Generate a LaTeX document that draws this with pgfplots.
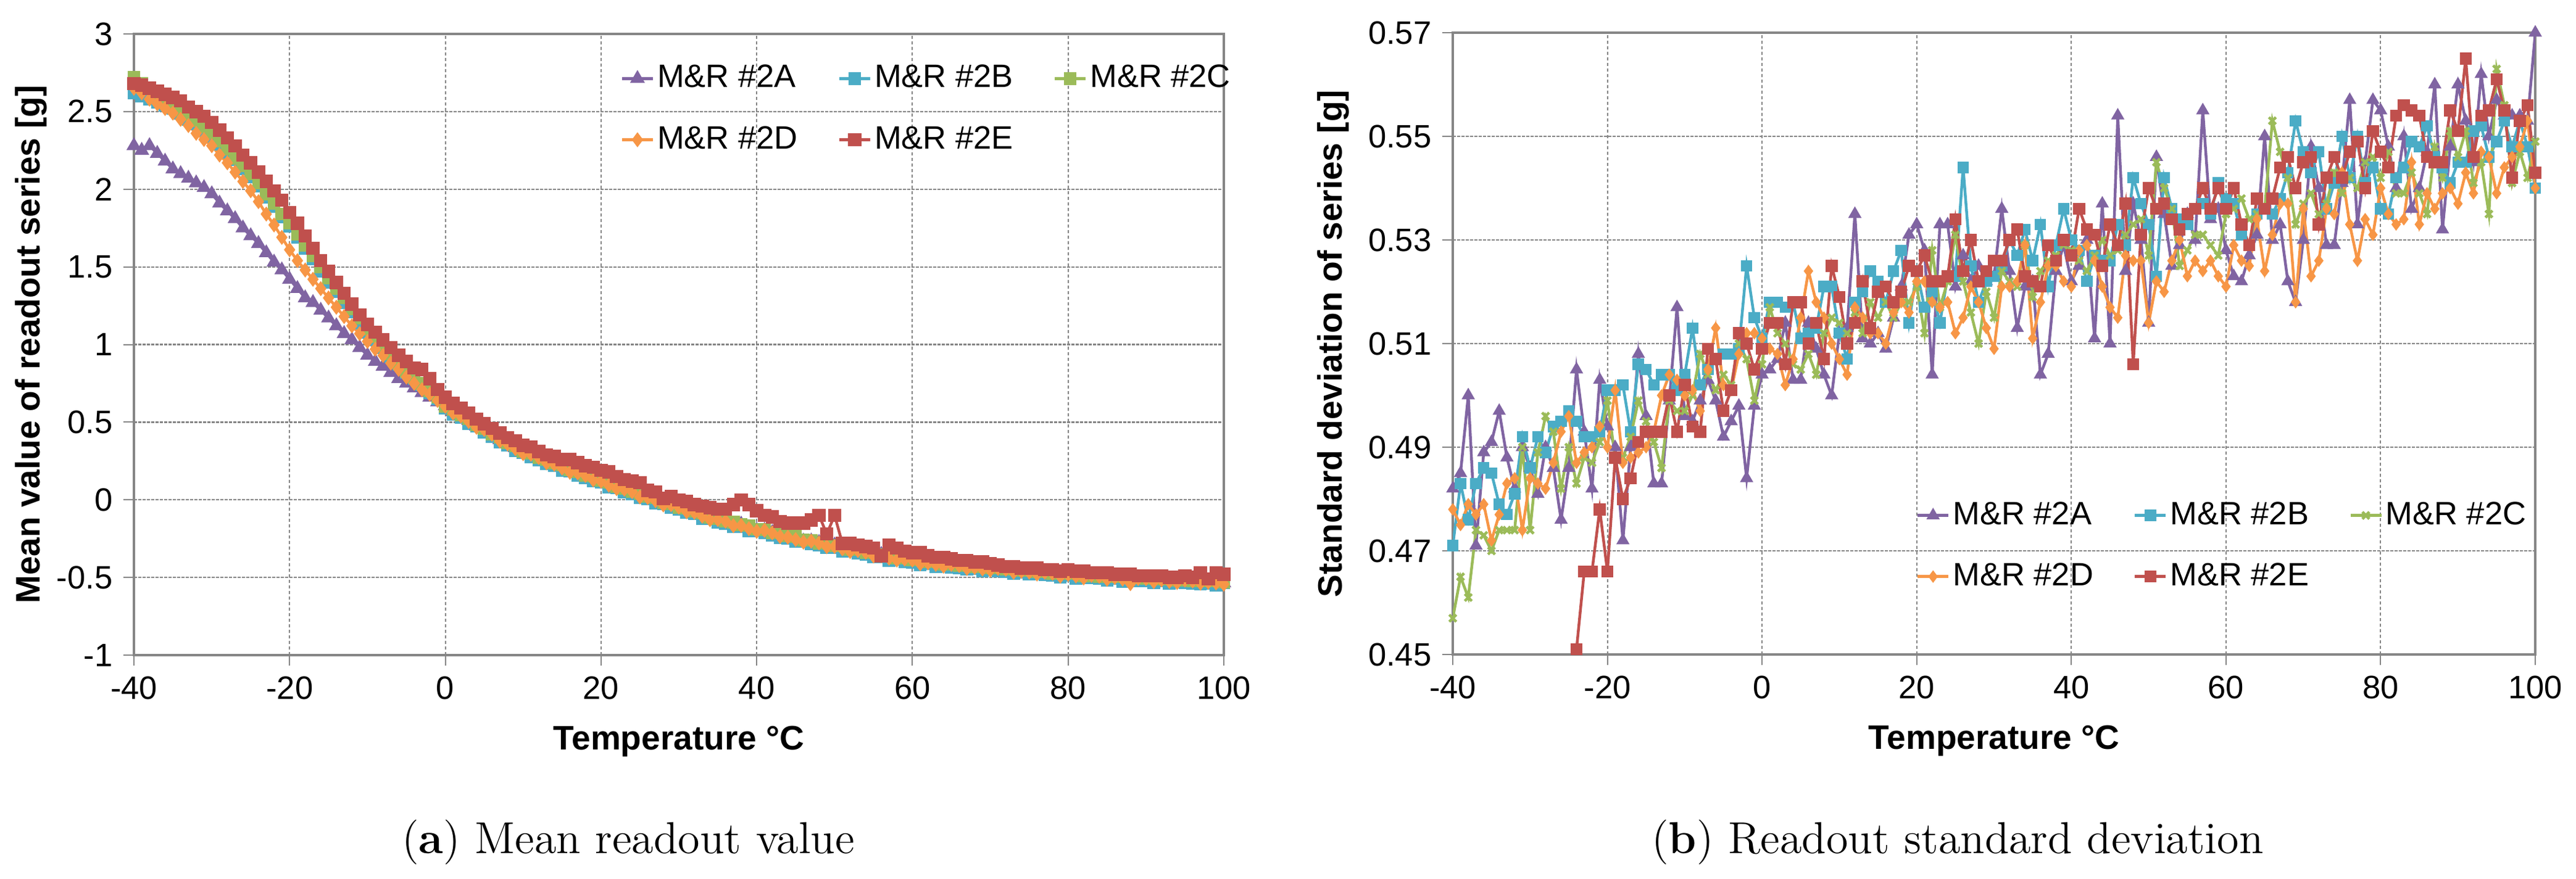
\documentclass[border=0pt]{standalone}
\usepackage{fontspec}
\usepackage{pgfplots}
\usepackage{pgfplotstable}
\pgfplotsset{compat=1.18}
\newfontfamily\arial{Liberation Sans}
\newcommand\tickfont{\arial\fontsize{10.5}{12}\selectfont}
\newcommand\labfont{\arial\bfseries\fontsize{11}{13}\selectfont}
\definecolor{cA}{HTML}{8064A2}
\definecolor{cB}{HTML}{4BACC6}
\definecolor{cC}{HTML}{9BBB59}
\definecolor{cD}{HTML}{F79646}
\definecolor{cE}{HTML}{C0504D}
\definecolor{gridgray}{HTML}{868686}

\pgfplotstableread{
T A B C D E
-40 2.28 2.62 2.72 2.65 2.68
-39 2.25 2.60 2.68 2.62 2.67
-38 2.28 2.58 2.65 2.58 2.65
-37 2.23 2.56 2.62 2.55 2.63
-36 2.18 2.54 2.58 2.52 2.61
-35 2.13 2.52 2.55 2.49 2.59
-34 2.10 2.49 2.51 2.45 2.57
-33 2.07 2.45 2.48 2.41 2.53
-32 2.04 2.42 2.44 2.36 2.50
-31 2.01 2.38 2.40 2.32 2.47
-30 1.97 2.34 2.36 2.28 2.43
-29 1.91 2.29 2.31 2.22 2.38
-28 1.86 2.24 2.26 2.17 2.33
-27 1.81 2.19 2.20 2.11 2.28
-26 1.75 2.13 2.15 2.05 2.22
-25 1.70 2.08 2.10 1.99 2.17
-24 1.65 2.02 2.04 1.92 2.11
-23 1.59 1.95 1.97 1.84 2.05
-22 1.53 1.89 1.91 1.77 1.99
-21 1.48 1.82 1.84 1.69 1.93
-20 1.42 1.76 1.78 1.61 1.85
-19 1.36 1.69 1.71 1.54 1.78
-18 1.30 1.62 1.64 1.48 1.70
-17 1.27 1.55 1.57 1.42 1.62
-16 1.22 1.47 1.50 1.36 1.54
-15 1.17 1.40 1.43 1.30 1.47
-14 1.12 1.34 1.36 1.24 1.40
-13 1.07 1.27 1.30 1.18 1.33
-12 1.03 1.21 1.23 1.12 1.26
-11 0.98 1.14 1.17 1.07 1.19
-10 0.93 1.08 1.10 1.02 1.13
-9 0.89 1.03 1.05 0.97 1.08
-8 0.86 0.98 0.99 0.93 1.03
-7 0.82 0.92 0.94 0.88 0.98
-6 0.78 0.87 0.88 0.84 0.93
-5 0.75 0.82 0.83 0.79 0.89
-4 0.72 0.78 0.79 0.75 0.85
-3 0.69 0.74 0.75 0.71 0.84
-2 0.66 0.69 0.70 0.68 0.78
-1 0.63 0.65 0.66 0.64 0.71
0 0.605 0.588 0.602 0.602 0.66
1 0.567 0.552 0.582 0.558 0.62
2 0.548 0.532 0.546 0.539 0.59
3 0.510 0.490 0.524 0.504 0.56
4 0.474 0.474 0.481 0.467 0.52
5 0.454 0.436 0.459 0.453 0.49
6 0.425 0.408 0.422 0.422 0.46
7 0.387 0.372 0.402 0.378 0.43
8 0.368 0.352 0.366 0.359 0.40
9 0.335 0.315 0.349 0.329 0.38
10 0.304 0.304 0.311 0.297 0.35
11 0.294 0.276 0.299 0.293 0.34
12 0.275 0.258 0.272 0.272 0.31
13 0.247 0.232 0.262 0.238 0.29
14 0.238 0.222 0.236 0.229 0.28
15 0.210 0.190 0.224 0.204 0.26
16 0.184 0.184 0.191 0.177 0.26
17 0.174 0.156 0.179 0.173 0.24
18 0.160 0.143 0.157 0.157 0.22
19 0.137 0.122 0.152 0.128 0.21
20 0.128 0.112 0.126 0.119 0.19
21 0.100 0.080 0.114 0.094 0.18
22 0.079 0.079 0.086 0.072 0.15
23 0.069 0.051 0.074 0.068 0.13
24 0.055 0.038 0.052 0.052 0.12
25 0.027 0.012 0.042 0.018 0.11
26 0.023 0.007 0.021 0.014 0.06
27 0.000 -0.020 0.014 -0.006 0.05
28 -0.026 -0.026 -0.019 -0.033 0.01
29 -0.031 -0.049 -0.026 -0.032 0.02
30 -0.045 -0.062 -0.048 -0.048 0.00
31 -0.068 -0.083 -0.053 -0.077 -0.01
32 -0.072 -0.088 -0.074 -0.081 -0.03
33 -0.100 -0.120 -0.086 -0.106 -0.04
34 -0.121 -0.121 -0.114 -0.128 -0.05
35 -0.126 -0.144 -0.121 -0.127 -0.06
36 -0.135 -0.152 -0.138 -0.138 -0.06
37 -0.158 -0.173 -0.143 -0.167 -0.03
38 -0.157 -0.173 -0.159 -0.166 0.00
39 -0.180 -0.200 -0.166 -0.186 -0.03
40 -0.196 -0.196 -0.189 -0.203 -0.07
41 -0.196 -0.214 -0.191 -0.197 -0.10
42 -0.210 -0.227 -0.213 -0.213 -0.11
43 -0.228 -0.243 -0.213 -0.237 -0.14
44 -0.232 -0.248 -0.234 -0.241 -0.15
45 -0.250 -0.270 -0.236 -0.256 -0.15
46 -0.266 -0.266 -0.259 -0.273 -0.15
47 -0.266 -0.284 -0.261 -0.267 -0.13
48 -0.275 -0.292 -0.278 -0.278 -0.10
49 -0.293 -0.308 -0.278 -0.302 -0.22
50 -0.292 -0.308 -0.294 -0.301 -0.10
51 -0.310 -0.330 -0.296 -0.316 -0.28
52 -0.326 -0.326 -0.319 -0.333 -0.28
53 -0.326 -0.344 -0.321 -0.327 -0.29
54 -0.335 -0.352 -0.338 -0.338 -0.30
55 -0.353 -0.368 -0.338 -0.362 -0.31
56 -0.352 -0.368 -0.354 -0.361 -0.36
57 -0.370 -0.390 -0.356 -0.376 -0.29
58 -0.381 -0.381 -0.374 -0.388 -0.31
59 -0.381 -0.399 -0.376 -0.382 -0.33
60 -0.385 -0.402 -0.388 -0.388 -0.34
61 -0.403 -0.418 -0.388 -0.412 -0.34
62 -0.397 -0.413 -0.399 -0.406 -0.36
63 -0.410 -0.430 -0.396 -0.416 -0.37
64 -0.421 -0.421 -0.414 -0.428 -0.37
65 -0.416 -0.434 -0.411 -0.417 -0.38
66 -0.420 -0.437 -0.423 -0.423 -0.39
67 -0.433 -0.448 -0.418 -0.442 -0.39
68 -0.427 -0.443 -0.429 -0.436 -0.40
69 -0.440 -0.460 -0.426 -0.446 -0.40
70 -0.446 -0.446 -0.439 -0.453 -0.41
71 -0.441 -0.459 -0.436 -0.442 -0.42
72 -0.445 -0.462 -0.448 -0.448 -0.43
73 -0.458 -0.473 -0.443 -0.467 -0.43
74 -0.452 -0.468 -0.454 -0.461 -0.44
75 -0.460 -0.480 -0.446 -0.466 -0.44
76 -0.471 -0.471 -0.464 -0.478 -0.44
77 -0.466 -0.484 -0.461 -0.467 -0.45
78 -0.470 -0.487 -0.473 -0.473 -0.45
79 -0.483 -0.498 -0.468 -0.492 -0.46
80 -0.472 -0.488 -0.474 -0.481 -0.45
81 -0.485 -0.505 -0.471 -0.491 -0.46
82 -0.496 -0.496 -0.489 -0.503 -0.46
83 -0.486 -0.504 -0.481 -0.487 -0.47
84 -0.490 -0.507 -0.493 -0.493 -0.47
85 -0.503 -0.518 -0.488 -0.512 -0.47
86 -0.492 -0.508 -0.494 -0.501 -0.48
87 -0.505 -0.525 -0.491 -0.511 -0.48
88 -0.511 -0.511 -0.504 -0.540 -0.48
89 -0.506 -0.524 -0.501 -0.507 -0.49
90 -0.505 -0.522 -0.508 -0.508 -0.49
91 -0.518 -0.533 -0.503 -0.527 -0.49
92 -0.507 -0.523 -0.509 -0.516 -0.49
93 -0.520 -0.540 -0.506 -0.526 -0.50
94 -0.526 -0.526 -0.519 -0.533 -0.50
95 -0.516 -0.534 -0.511 -0.517 -0.49
96 -0.520 -0.537 -0.523 -0.523 -0.50
97 -0.528 -0.543 -0.513 -0.537 -0.47
98 -0.522 -0.538 -0.524 -0.531 -0.51
99 -0.530 -0.550 -0.516 -0.536 -0.47
100 -0.536 -0.536 -0.529 -0.543 -0.48
}\meantab

\pgfplotstableread{
T A B C D E
-40 0.482 0.471 0.457 0.478 nan
-39 0.485 0.483 0.465 0.475 nan
-38 0.500 0.476 0.461 0.479 nan
-37 0.471 0.483 0.474 0.477 nan
-36 0.489 0.486 0.473 0.479 nan
-35 0.491 0.485 0.470 0.472 nan
-34 0.497 0.479 0.474 0.477 nan
-33 0.488 0.477 0.474 0.483 nan
-32 0.482 0.481 0.474 0.484 nan
-31 0.490 0.492 0.490 0.474 nan
-30 0.486 0.486 0.474 0.484 nan
-29 0.481 0.492 0.489 0.483 nan
-28 0.490 0.489 0.496 0.482 nan
-27 0.486 0.494 0.493 0.487 nan
-26 0.476 0.495 0.482 0.493 nan
-25 0.486 0.497 0.490 0.496 nan
-24 0.505 0.495 0.483 0.487 0.451
-23 0.493 0.492 0.488 0.489 0.466
-22 0.482 0.492 0.487 0.490 0.466
-21 0.503 0.493 0.491 0.494 0.478
-20 0.494 0.501 0.499 0.490 0.466
-19 0.490 0.501 0.488 0.501 0.488
-18 0.472 0.502 0.488 0.487 0.480
-17 0.490 0.493 0.492 0.488 0.484
-16 0.508 0.506 0.499 0.489 0.491
-15 0.496 0.505 0.495 0.490 0.493
-14 0.483 0.502 0.491 0.493 0.493
-13 0.483 0.504 0.486 0.500 0.493
-12 0.499 0.504 0.499 0.504 0.500
-11 0.517 0.501 0.497 0.503 0.493
-10 0.496 0.504 0.497 0.500 0.502
-9 0.495 0.513 0.500 0.501 0.494
-8 0.499 0.502 0.508 0.497 0.493
-7 0.503 0.505 0.504 0.505 0.509
-6 0.499 0.507 0.501 0.513 0.507
-5 0.492 0.508 0.504 0.502 0.497
-4 0.495 0.508 0.502 0.501 0.501
-3 0.498 0.509 0.510 0.508 0.512
-2 0.484 0.525 0.507 0.512 0.510
-1 0.498 0.515 0.499 0.512 0.505
0 0.504 0.511 0.506 0.511 0.509
1 0.505 0.518 0.517 0.509 0.514
2 0.507 0.518 0.512 0.508 0.514
3 0.514 0.517 0.510 0.502 0.506
4 0.503 0.518 0.506 0.507 0.518
5 0.503 0.511 0.505 0.515 0.518
6 0.514 0.512 0.508 0.524 0.510
7 0.509 0.513 0.504 0.518 0.514
8 0.504 0.521 0.512 0.515 0.507
9 0.500 0.521 0.515 0.510 0.525
10 0.512 0.512 0.514 0.507 0.519
11 0.513 0.507 0.512 0.504 0.510
12 0.535 0.518 0.516 0.517 0.514
13 0.511 0.520 0.512 0.515 0.522
14 0.510 0.524 0.518 0.512 0.513
15 0.512 0.522 0.515 0.512 0.520
16 0.509 0.518 0.518 0.510 0.521
17 0.515 0.524 0.515 0.516 0.518
18 0.521 0.528 0.518 0.518 0.520
19 0.531 0.514 0.518 0.516 0.525
20 0.533 0.524 0.521 0.522 0.524
21 0.528 0.517 0.512 0.522 0.527
22 0.504 0.520 0.528 0.518 0.522
23 0.533 0.514 0.517 0.517 0.522
24 0.533 0.523 0.522 0.518 0.523
25 0.521 0.523 0.531 0.512 0.534
26 0.527 0.544 0.522 0.515 0.524
27 0.522 0.525 0.516 0.521 0.530
28 0.525 0.518 0.510 0.518 0.522
29 0.522 0.522 0.520 0.513 0.524
30 0.523 0.523 0.515 0.509 0.526
31 0.536 0.525 0.524 0.521 0.526
32 0.524 0.530 0.522 0.521 0.530
33 0.513 0.527 0.521 0.522 0.532
34 0.521 0.532 0.529 0.529 0.523
35 0.522 0.526 0.519 0.511 0.522
36 0.504 0.533 0.524 0.518 0.521
37 0.508 0.521 0.526 0.525 0.529
38 0.524 0.529 0.527 0.525 0.526
39 0.529 0.536 0.529 0.522 0.530
40 0.522 0.530 0.528 0.521 0.527
41 0.525 0.528 0.526 0.528 0.536
42 0.530 0.522 0.524 0.529 0.532
43 0.511 0.527 0.527 0.526 0.531
44 0.537 0.526 0.530 0.521 0.525
45 0.510 0.526 0.527 0.517 0.533
46 0.554 0.533 0.528 0.515 0.529
47 0.524 0.529 0.531 0.527 0.537
48 0.537 0.542 0.533 0.526 0.506
49 0.530 0.537 0.534 0.526 0.531
50 0.514 0.533 0.527 0.514 0.540
51 0.546 0.523 0.545 0.522 0.536
52 0.535 0.542 0.540 0.520 0.537
53 0.525 0.536 0.536 0.526 0.534
54 0.529 0.534 0.525 0.530 0.532
55 0.535 0.533 0.528 0.523 0.535
56 0.530 0.536 0.531 0.526 0.536
57 0.555 0.537 0.531 0.524 0.540
58 0.534 0.535 0.529 0.526 0.536
59 0.536 0.541 0.527 0.523 0.540
60 0.528 0.538 0.535 0.521 0.536
61 0.523 0.537 0.536 0.529 0.540
62 0.522 0.531 0.538 0.526 0.533
63 0.527 0.529 0.534 0.525 0.529
64 0.531 0.535 0.535 0.534 0.538
65 0.550 0.536 0.536 0.524 0.536
66 0.530 0.535 0.553 0.531 0.538
67 0.533 0.538 0.547 0.537 0.544
68 0.522 0.543 0.542 0.537 0.546
69 0.518 0.553 0.533 0.518 0.540
70 0.530 0.547 0.537 0.536 0.545
71 0.548 0.543 0.539 0.523 0.546
72 0.540 0.547 0.535 0.526 0.533
73 0.529 0.536 0.537 0.536 0.542
74 0.529 0.541 0.543 0.535 0.546
75 0.541 0.550 0.539 0.543 0.542
76 0.557 0.542 0.542 0.533 0.547
77 0.533 0.550 0.540 0.526 0.549
78 0.545 0.541 0.545 0.534 0.540
79 0.557 0.544 0.546 0.531 0.551
80 0.555 0.536 0.542 0.540 0.547
81 0.548 0.535 0.547 0.535 0.544
82 0.540 0.542 0.539 0.533 0.554
83 0.550 0.544 0.539 0.534 0.556
84 0.536 0.549 0.543 0.545 0.555
85 0.540 0.548 0.539 0.533 0.554
86 0.547 0.552 0.535 0.539 0.546
87 0.560 0.546 0.548 0.536 0.545
88 0.532 0.544 0.542 0.539 0.545
89 0.548 0.541 0.551 0.540 0.555
90 0.560 0.545 0.546 0.537 0.551
91 0.553 0.545 0.551 0.543 0.565
92 0.545 0.551 0.541 0.539 0.546
93 0.562 0.552 0.545 0.547 0.554
94 0.550 0.546 0.535 0.546 0.555
95 0.557 0.549 0.563 0.539 0.561
96 0.554 0.553 0.556 0.544 0.555
97 0.554 0.548 0.541 0.546 0.542
98 0.554 0.553 0.547 0.548 0.553
99 0.553 0.548 0.542 0.553 0.556
100 0.570 0.540 0.549 0.540 0.543
}\stdtab

\pgfplotsset{
  excel/.style={
    scale only axis,
    xmin=-40, xmax=100,
    xtick={-40,-20,0,20,40,60,80,100},
    grid=major,
    x grid style={gridgray, line width=0.4pt, dash pattern=on 1.1pt off 0.7pt},
    y grid style={gridgray, line width=0.45pt, dash pattern=on 0.9pt off 0.5pt},
    axis line style={gridgray, line width=0.9pt},
    tick align=outside, tick pos=left,
    major tick length=3.4pt,
    tick style={gridgray, line width=0.4pt},
    ticklabel style={font=\tickfont},
    /pgf/number format/assume math mode=true,
    xlabel style={font=\labfont, at={(axis description cs:0.5,0)}, anchor=base, yshift=-30.6pt},
    ylabel style={font=\labfont, anchor=center},
    legend columns=3,
    legend cell align=left,
    legend style={draw=none, fill=none, font=\tickfont, anchor=north west,
      row sep=9pt, inner sep=0pt,
      /tikz/every even column/.append style={column sep=12pt},
      nodes={inner sep=1pt}},
    legend image code/.code={\draw[mark repeat=2,mark phase=2,#1] plot coordinates {(0pt,0pt) (5pt,0pt) (10pt,0pt)};},
  }
}

\begin{document}
\begin{tikzpicture}
\path[use as bounding box] (0pt,0pt) rectangle (834.8pt,284.8pt);

\begin{axis}[excel,
  at={(43.4pt,72.4pt)}, anchor=south west,
  width=353.2pt, height=201.4pt,
  ymin=-1, ymax=3,
  ytick={-1,-0.5,0,0.5,1,1.5,2,2.5,3},
  xlabel={Temperature °C},
  ylabel={Mean value of readout series [g]},
  ylabel style={at={(axis description cs:-0.0946,0.5)}},
  legend style={at={(axis description cs:0.446,0.956)}},
]
\addplot[cA, line width=0.9pt, mark=triangle*, mark size=1.9pt] table[x=T,y=A]{\meantab};
\addlegendentry{M\&R \#2A}
\addplot[cB, line width=0.9pt, mark=square*, mark size=1.6pt] table[x=T,y=B]{\meantab};
\addlegendentry{M\&R \#2B}
\addplot[cC, line width=0.9pt, mark=square*, mark size=1.6pt] table[x=T,y=C]{\meantab};
\addlegendentry{M\&R \#2C}
\addplot[cD, line width=0.9pt, mark=diamond*, mark size=1.7pt] table[x=T,y=D]{\meantab};
\addlegendentry{M\&R \#2D}
\addplot[cE, line width=0.9pt, mark=square*, mark size=1.7pt] table[x=T,y=E]{\meantab};
\addlegendentry{M\&R \#2E}
\end{axis}

\begin{axis}[excel,
  at={(470.8pt,72.6pt)}, anchor=south west,
  width=350.8pt, height=201.6pt,
  ymin=0.45, ymax=0.57,
  ytick={0.45,0.47,0.49,0.51,0.53,0.55,0.57},
  yticklabel style={/pgf/number format/.cd, fixed, fixed zerofill, precision=2},
  xlabel={Temperature °C},
  ylabel={Standard deviation of series [g]},
  ylabel style={at={(axis description cs:-0.1106,0.5)}},
  legend style={at={(axis description cs:0.4276,0.2515)}},
]
\addplot[cA, line width=0.9pt, mark=triangle*, mark size=1.6pt] table[x=T,y=A]{\stdtab};
\addlegendentry{M\&R \#2A}
\addplot[cB, line width=0.9pt, mark=square*, mark size=1.4pt] table[x=T,y=B]{\stdtab};
\addlegendentry{M\&R \#2B}
\addplot[cC, line width=0.9pt, mark=x, mark size=1.6pt] table[x=T,y=C]{\stdtab};
\addlegendentry{M\&R \#2C}
\addplot[cD, line width=0.9pt, mark=diamond*, mark size=1.3pt] table[x=T,y=D]{\stdtab};
\addlegendentry{M\&R \#2D}
\addplot[cE, line width=0.9pt, mark=square*, mark size=1.5pt] table[x=T,y=E]{\stdtab};
\addlegendentry{M\&R \#2E}
\end{axis}

\node[anchor=base] at (203.6pt,8.2pt) {\fontsize{14.5}{17}\selectfont (\textbf{a}) Mean readout value};
\node[anchor=base] at (634.4pt,8.2pt) {\fontsize{14.5}{17}\selectfont (\textbf{b}) Readout standard deviation};
\end{tikzpicture}
\end{document}
